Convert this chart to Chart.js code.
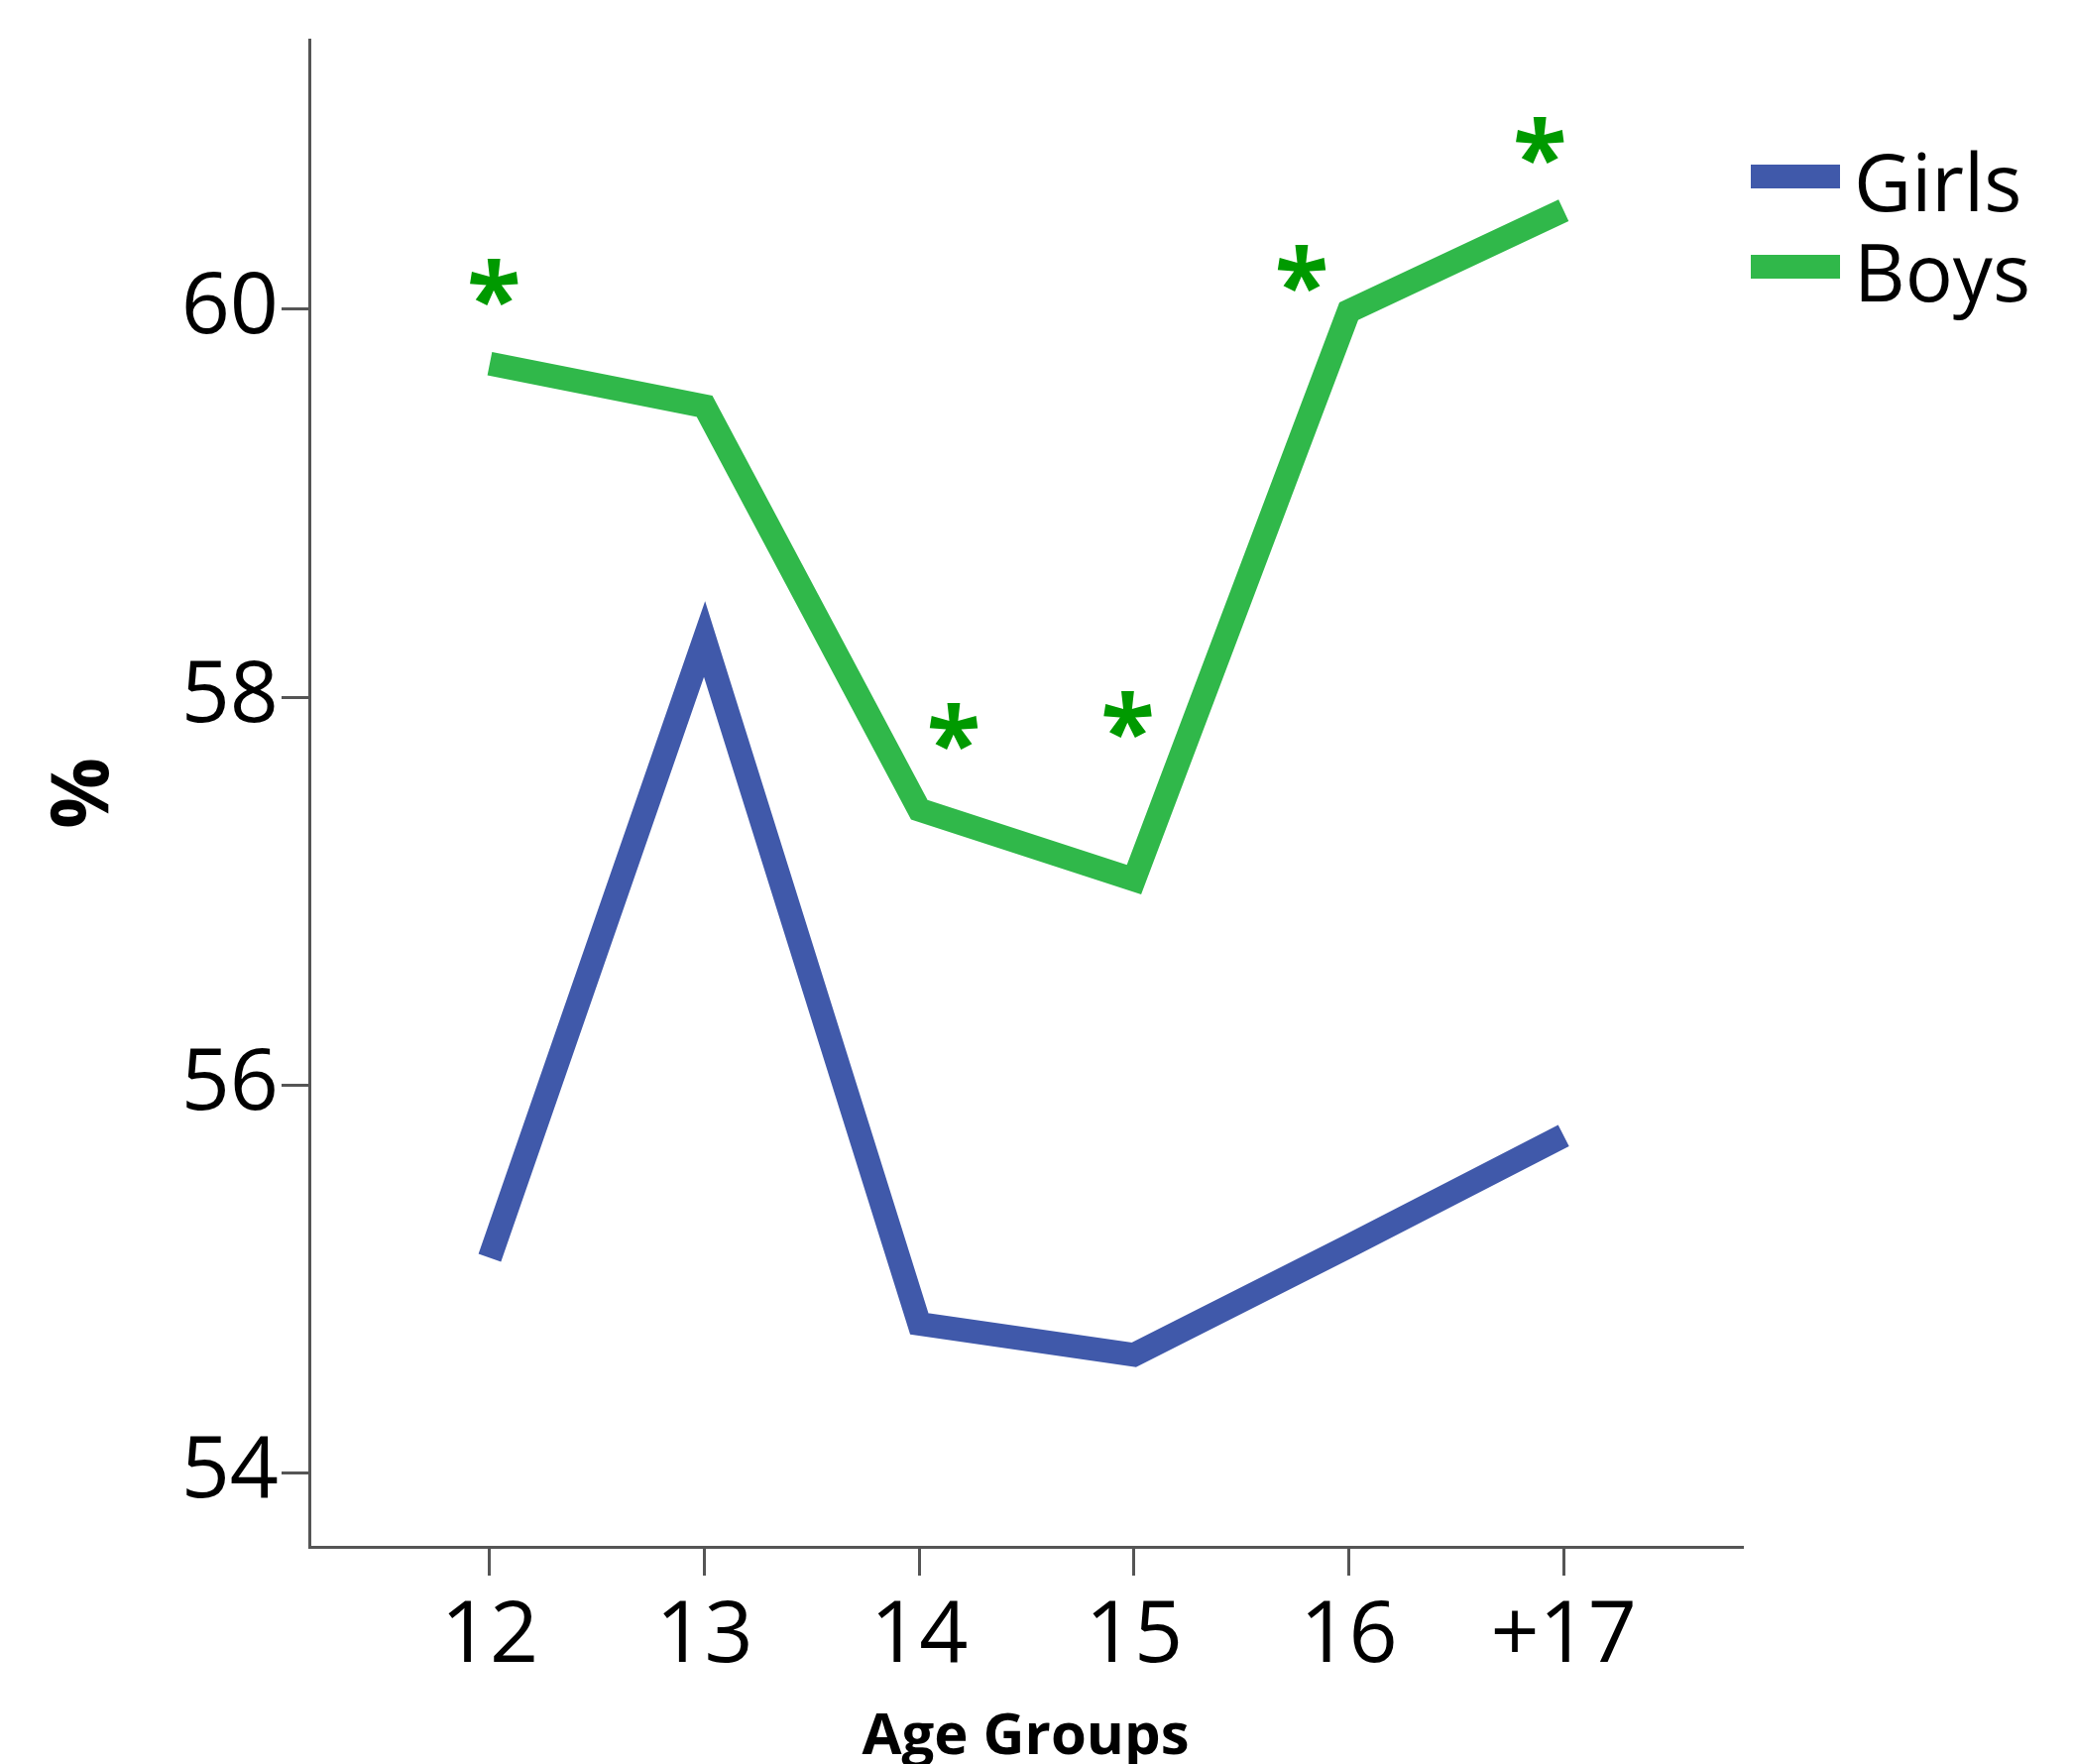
<!DOCTYPE html>
<html>
<head>
<meta charset="utf-8">
<script src="https://cdn.jsdelivr.net/npm/chart.js@4.4.1/dist/chart.umd.min.js"></script>
<style>
  html, body { margin: 0; padding: 0; background: #fff; overflow: hidden; }
  #chart { display: block; width: 2091px; height: 1779px; }
</style>
</head>
<body>
<canvas id="chart" width="2091" height="1779"></canvas>
<script>
// Age groups on the x axis
const ageGroups = ['12', '13', '14', '15', '16', '+17'];
// Percent values
const girls = [55.11, 58.3, 54.77, 54.61, 55.17, 55.74];
const boys = [59.72, 59.5, 57.42, 57.06, 59.99, 60.51];
// Significance marks (asterisks) above the boys line, in axis units
const starX = [0.02, 2.16, 2.97, 3.78, 4.89];
const starY = [60.14, 57.85, 57.91, 60.21, 60.87];
const yTicks = [54, 56, 58, 60];

const girlsColor = '#4059aa';
const boysColor = '#30b84a';
const starColor = '#009a00';
const axisColor = '#555555';
const fontFamily = '"Open Sans", "Noto Sans", sans-serif';

// Draw the asterisks as text at the points of the hidden marker dataset
const starPlugin = {
    id: 'stars',
    afterDatasetsDraw(chart) {
        const meta = chart.getDatasetMeta(2);
        const ctx = chart.ctx;
        ctx.save();
        ctx.fillStyle = starColor;
        ctx.font = 'bold 100px ' + fontFamily;
        ctx.textAlign = 'center';
        ctx.textBaseline = 'alphabetic';
        const m = ctx.measureText('*');
        const shift = (m.actualBoundingBoxAscent - m.actualBoundingBoxDescent) / 2;
        meta.data.forEach(pt => {
            ctx.fillText('*', pt.x, pt.y + shift);
        });
        ctx.restore();
    }
};

// Legend on the right, line swatches like the original
const legendPlugin = {
    id: 'sideLegend',
    afterDraw(chart) {
        const ctx = chart.ctx;
        const items = [{label: 'Girls', color: girlsColor}, {label: 'Boys', color: boysColor}];
        ctx.save();
        ctx.font = '80px ' + fontFamily;
        ctx.textBaseline = 'alphabetic';
        ctx.textAlign = 'left';
        items.forEach((it, i) => {
            const cy = 178 + i * 91;
            ctx.fillStyle = it.color;
            ctx.fillRect(1766, cy - 12, 90, 24);
            ctx.fillStyle = '#000';
            ctx.fillText(it.label, 1870, cy + 35);
        });
        ctx.restore();
    }
};

const toPoints = arr => arr.map((v, i) => ({x: i, y: v}));

new Chart(document.getElementById('chart'), {
    type: 'line',
    data: {
        datasets: [{
            label: 'Girls',
            data: toPoints(girls),
            borderColor: girlsColor,
            borderWidth: 24,
            borderJoinStyle: 'miter',
            borderCapStyle: 'butt',
            pointRadius: 0,
            fill: false,
            tension: 0
        }, {
            label: 'Boys',
            data: toPoints(boys),
            borderColor: boysColor,
            borderWidth: 24,
            borderJoinStyle: 'miter',
            borderCapStyle: 'butt',
            pointRadius: 0,
            fill: false,
            tension: 0
        }, {
            label: 'sig',
            data: starX.map((x, i) => ({x: x, y: starY[i]})),
            showLine: false,
            pointRadius: 0
        }]
    },
    options: {
        responsive: false,
        devicePixelRatio: 1,
        animation: false,
        layout: { padding: { left: 0, top: 40, right: 334, bottom: 0 } },
        plugins: {
            legend: { display: false },
            tooltip: { enabled: false }
        },
        scales: {
            x: {
                type: 'linear',
                min: -0.84,
                max: 5.83,
                afterFit: s => { s.height = 219; s.paddingLeft = 0; s.paddingRight = 0; },
                afterBuildTicks: s => { s.ticks = ageGroups.map((_, i) => ({value: i})); },
                border: { color: axisColor, width: 3 },
                grid: { drawOnChartArea: false, color: axisColor, lineWidth: 3, tickLength: 29 },
                ticks: {
                    color: '#000',
                    padding: 11,
                    maxRotation: 0,
                    font: { family: fontFamily, size: 86, lineHeight: 1.2 },
                    callback: v => ageGroups[v]
                },
                title: {
                    display: true,
                    text: 'Age Groups',
                    color: '#000',
                    padding: 0,
                    font: { family: fontFamily, size: 58, weight: 'bold', lineHeight: 0.9 }
                }
            },
            y: {
                min: 53.62,
                max: 61.39,
                afterFit: s => { s.width = 312; s.paddingTop = 0; s.paddingBottom = 0; },
                afterBuildTicks: s => { s.ticks = yTicks.map(v => ({value: v})); },
                border: { color: axisColor, width: 3 },
                grid: { drawOnChartArea: false, color: axisColor, lineWidth: 3, tickLength: 28 },
                ticks: {
                    color: '#000',
                    padding: 3,
                    font: { family: fontFamily, size: 86 }
                },
                title: {
                    display: true,
                    text: '%',
                    color: '#000',
                    padding: { top: 38, bottom: 0 },
                    font: { family: fontFamily, size: 80, weight: 'bold', lineHeight: 1.2 }
                }
            }
        }
    },
    plugins: [starPlugin, legendPlugin]
});
</script>
</body>
</html>
